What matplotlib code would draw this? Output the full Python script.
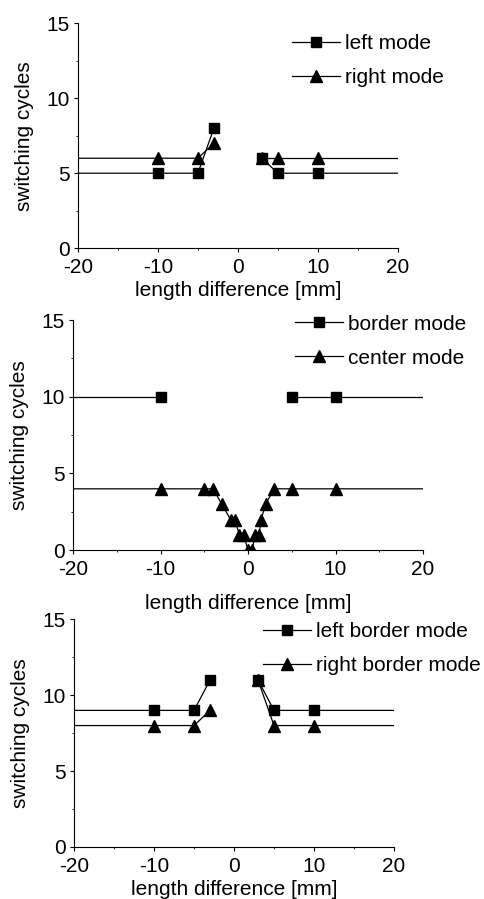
import numpy as np
import matplotlib
matplotlib.use("Agg")
from matplotlib import pyplot as plt
from matplotlib.lines import Line2D
from matplotlib.ticker import MultipleLocator

plt.rcParams['font.family'] = ['Liberation Sans', 'DejaVu Sans']
plt.rcParams['font.size'] = 15
plt.rcParams['axes.unicode_minus'] = False

# x range of every panel, lines are continued to these limits
x_range = (-20, 20)

# panel 1
left_x = [-10, -5, -3, 3, 5, 10]
left_y = [5, 5, 8, 6, 5, 5]
right_x = [-10, -5, -3, 3, 5, 10]
right_y = [6, 6, 7, 6, 6, 6]

# panel 2
border_x = [-10, 5, 10]
border_y = [10, 10, 10]
center_x = [-10, -5, -4, -3, -2, -1.5, -1, -0.5, 0, 0.5, 0.75, 1.25, 1.5, 2, 3, 5, 10]
center_y = [4, 4, 4, 3, 2, 2, 1, 1, 0, 0, 1, 1, 2, 3, 4, 4, 4]

# panel 3
lborder_x = [-10, -5, -3, 3, 5, 10]
lborder_y = [9, 9, 11, 11, 9, 9]
rborder_x = [-10, -5, -3, 3, 5, 10]
rborder_y = [8, 8, 9, 11, 8, 8]

fig = plt.figure(figsize=(4.84, 8.99), dpi=100)


def draw_series(ax, x, y, marker, ms, split):
    x = np.asarray(x, float)
    y = np.asarray(y, float)
    if split:
        groups = [x < 0, x >= 0]
    else:
        groups = [np.ones_like(x, bool)]
    for i, g in enumerate(groups):
        xs, ys = list(x[g]), list(y[g])
        if i == 0:
            xs = [x_range[0]] + xs
            ys = [ys[0]] + ys
        if i == len(groups) - 1:
            xs = xs + [x_range[1]]
            ys = ys + [ys[-1]]
        ax.plot(xs, ys, '-', color='k', lw=0.9)
    ax.plot(x, y, ls='none', marker=marker, ms=ms, color='k', mec='k')
    return Line2D([], [], color='k', lw=0.9, marker=marker, ms=ms)


def setup(ax, labelpad):
    ax.set_xlim(*x_range)
    ax.set_ylim(0, 15)
    ax.spines['top'].set_visible(False)
    ax.spines['right'].set_visible(False)
    ax.xaxis.set_major_locator(MultipleLocator(10))
    ax.yaxis.set_major_locator(MultipleLocator(5))
    ax.xaxis.set_minor_locator(MultipleLocator(5))
    ax.yaxis.set_minor_locator(MultipleLocator(2.5))
    ax.tick_params(which='major', direction='out', length=3, width=0.8)
    ax.tick_params(axis='x', which='major', pad=4)
    ax.tick_params(axis='y', which='major', pad=3)
    ax.tick_params(which='minor', direction='out', length=1.5, width=0.6)
    ax.set_xlabel('length difference [mm]', labelpad=labelpad)
    ax.set_ylabel('switching cycles', labelpad=9)


def legend(ax, handles, labels, x, y):
    ax.legend(handles, labels, loc='upper left', bbox_to_anchor=(x, y),
              bbox_transform=fig.transFigure, frameon=False, borderpad=0,
              borderaxespad=0, handlelength=2.3, handletextpad=0.25,
              labelspacing=0.72, fontsize=15)


ax1 = fig.add_axes([0.161, 0.724, 0.661, 0.250])
setup(ax1, 3)
h1 = draw_series(ax1, left_x, left_y, 's', 6.5, True)
h2 = draw_series(ax1, right_x, right_y, '^', 8, True)
legend(ax1, [h1, h2], ['left mode', 'right mode'], 0.603, 0.962)

ax2 = fig.add_axes([0.151, 0.388, 0.723, 0.256])
setup(ax2, 11)
h1 = draw_series(ax2, border_x, border_y, 's', 6.5, True)
h2 = draw_series(ax2, center_x, center_y, '^', 8, False)
legend(ax2, [h1, h2], ['border mode', 'center mode'], 0.610, 0.650)

ax3 = fig.add_axes([0.153, 0.058, 0.661, 0.253])
setup(ax3, 3)
h1 = draw_series(ax3, lborder_x, lborder_y, 's', 6.5, True)
h2 = draw_series(ax3, rborder_x, rborder_y, '^', 8, True)
legend(ax3, [h1, h2], ['left border mode', 'right border mode'], 0.544, 0.308)

fig.savefig('out.png', dpi=100)
